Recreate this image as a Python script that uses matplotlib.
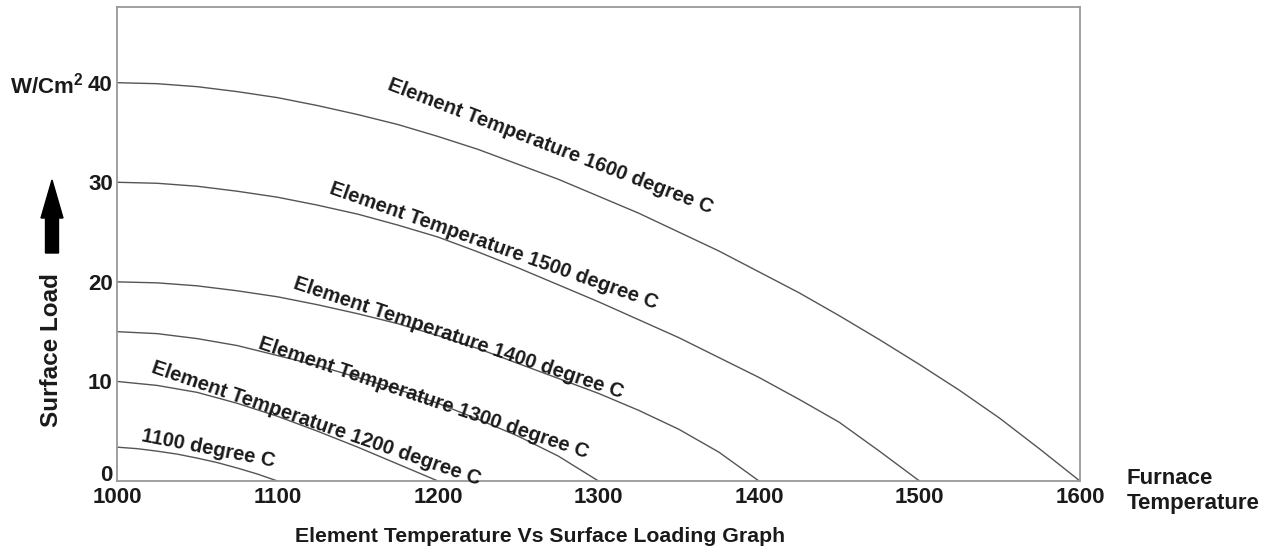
import matplotlib.pyplot as plt
from matplotlib.patches import FancyArrow

plt.rcParams['font.family'] = ['Liberation Sans', 'DejaVu Sans']
plt.rcParams['mathtext.fontset'] = 'custom'
plt.rcParams['mathtext.bf'] = 'Liberation Sans:bold'

# furnace temperature (deg C) vs surface load (W/cm2), one curve per element temperature
t_1600 = [1000, 1025, 1050, 1075, 1100, 1125, 1150, 1175, 1200, 1225, 1250, 1275, 1300,
          1325, 1350, 1375, 1400, 1425, 1450, 1475, 1500, 1525, 1550, 1575, 1600]
load_1600 = [40.0, 39.9, 39.6, 39.1, 38.5, 37.7, 36.8, 35.8, 34.6, 33.3, 31.8, 30.3, 28.6,
             26.9, 25.0, 23.1, 21.0, 18.9, 16.6, 14.2, 11.7, 9.1, 6.3, 3.2, 0]

t_1500 = [1000, 1025, 1050, 1075, 1100, 1125, 1150, 1175, 1200, 1225, 1250, 1275, 1300,
          1325, 1350, 1375, 1400, 1425, 1450, 1475, 1500]
load_1500 = [30.0, 29.9, 29.6, 29.1, 28.5, 27.7, 26.8, 25.7, 24.5, 23.0, 21.4, 19.7, 18.0,
             16.2, 14.4, 12.4, 10.4, 8.2, 5.9, 3.0, 0]

t_1400 = [1000, 1025, 1050, 1075, 1100, 1125, 1150, 1175, 1200, 1225, 1250, 1275, 1300,
          1325, 1350, 1375, 1400]
load_1400 = [20.0, 19.9, 19.6, 19.1, 18.5, 17.7, 16.8, 15.8, 14.6, 13.3, 11.8, 10.3, 8.8,
             7.1, 5.2, 2.9, 0]

t_1300 = [1000, 1025, 1050, 1075, 1100, 1125, 1150, 1175, 1200, 1225, 1250, 1275, 1300]
load_1300 = [15.0, 14.8, 14.3, 13.6, 12.6, 11.6, 10.4, 9.2, 7.8, 6.2, 4.5, 2.5, 0]

t_1200 = [1000, 1025, 1050, 1075, 1100, 1125, 1150, 1175, 1200]
load_1200 = [10.0, 9.6, 8.9, 7.8, 6.5, 5.0, 3.4, 1.7, 0]

t_1100 = [1000, 1012.5, 1025, 1037.5, 1050, 1062.5, 1075, 1087.5, 1100]
load_1100 = [3.4, 3.25, 3.0, 2.7, 2.3, 1.85, 1.3, 0.7, 0]

xticks = [1000, 1100, 1200, 1300, 1400, 1500, 1600]
yticks = [0, 10, 20, 30, 40]

curves = [(t_1600, load_1600), (t_1500, load_1500), (t_1400, load_1400),
          (t_1300, load_1300), (t_1200, load_1200), (t_1100, load_1100)]

# label text, anchor (T, load), rotation
labels = [
    ('Element Temperature 1600 degree C', 1270, 33.6, -21),
    ('Element Temperature 1500 degree C', 1235, 23.6, -19.5),
    ('Element Temperature 1400 degree C', 1213, 14.4, -18.5),
    ('Element Temperature 1300 degree C', 1191, 8.3, -18.5),
    ('Element Temperature 1200 degree C', 1124, 5.8, -19),
    ('1100 degree C', 1057, 3.3, -11),
]

fig = plt.figure(figsize=(12.7, 5.52), dpi=100)
ax = fig.add_axes([0.0921, 0.1286, 0.7583, 0.8587])

for t, load in curves:
    ax.plot(t, load, color='#555555', linewidth=1.0)

for txt, x, y, rot in labels:
    ax.text(x, y, txt, rotation=rot, ha='center', va='center',
            fontsize=14.5, fontweight='bold', color='#1a1a1a', rotation_mode='anchor')

ax.set_xlim(1000, 1600)
ax.set_ylim(0, 47.6)
ax.set_xticks(xticks)
ax.set_yticks(yticks)
ax.tick_params(length=0, labelsize=16)
ax.tick_params(axis='y', pad=3)
ax.tick_params(axis='x', pad=4)
for lab in ax.get_xticklabels() + ax.get_yticklabels():
    lab.set_fontweight('bold')
    lab.set_color('#1a1a1a')
ax.get_yticklabels()[0].set_va('baseline')
for sp in ax.spines.values():
    sp.set_color('#999999')
    sp.set_linewidth(1.3)

fig.text(10 / 1270, 1 - 86 / 552, r'W/Cm$^{\mathbf{2}}$', fontsize=16, fontweight='bold',
         ha='left', va='center', color='#1a1a1a')
fig.text(52 / 1270, 1 - 350 / 552, 'Surface Load', rotation=90, fontsize=17.5,
         fontweight='bold', ha='center', va='center', color='#1a1a1a')
fig.patches.append(FancyArrow(
    52 / 1270, 1 - 253 / 552, 0, 73 / 552, width=13 / 1270, head_width=22 / 1270,
    head_length=38 / 552, length_includes_head=True, color='black',
    transform=fig.transFigure, figure=fig))
fig.text(1127 / 1270, 1 - 478 / 552, 'Furnace', fontsize=16,
         fontweight='bold', ha='left', va='center', color='#1a1a1a')
fig.text(1127 / 1270, 1 - 504 / 552, 'Temperature', fontsize=16,
         fontweight='bold', ha='left', va='center', color='#1a1a1a')
fig.text(540 / 1270, 1 - 537 / 552, 'Element Temperature Vs Surface Loading Graph',
         fontsize=15.3, fontweight='bold', ha='center', va='center', color='#1a1a1a')

fig.savefig('out.png', dpi=100)
